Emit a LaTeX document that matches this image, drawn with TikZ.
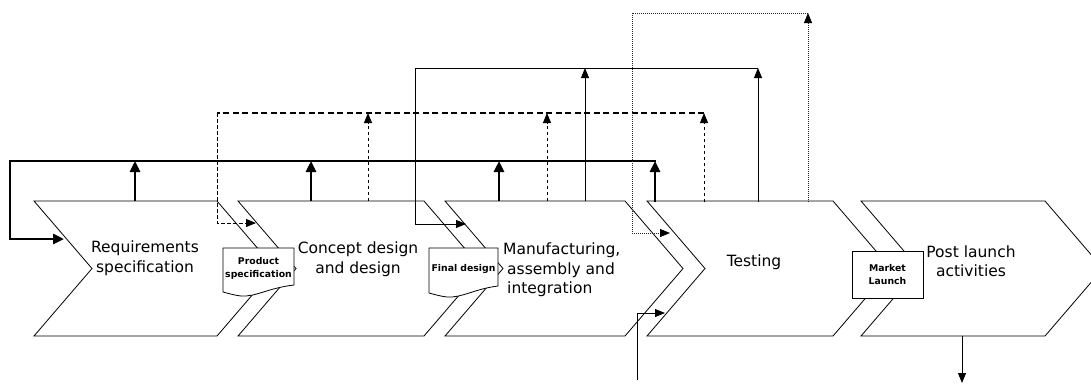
\documentclass[tikz,border=0pt]{standalone}
\usepackage{fontspec}
\setmainfont{DejaVu Sans}
\usetikzlibrary{arrows.meta}
\newcommand\mystage[2]{%
  \draw[stage] ({#1},201) -- ({#2},201) -- ({#2+58},268.5) -- ({#2},336) -- ({#1},336) -- ({#1+58},268.5) -- cycle;}
\begin{document}
\begin{tikzpicture}[x=1pt,y=-1pt,
  stage/.style={draw=black,line width=0.8pt,fill=white,line join=miter},
  lbl/.style={font=\fontsize{15.5}{19.5}\selectfont,inner sep=0pt},
  doclbl/.style={font=\bfseries\fontsize{9.3}{13}\selectfont,align=center,inner sep=0pt},
  docbox/.style={draw=black,line width=0.8pt,fill=white},
  fbthick/.style={line width=2.6pt,line join=miter,-{Triangle[length=11pt,width=10pt]}},
  fbthin/.style={line width=0.9pt,line join=miter,-{Triangle[length=10pt,width=8pt]}},
  fbdash/.style={line width=1.0pt,dash pattern=on 3.5pt off 2.5pt,-{Triangle[length=10pt,width=8pt]}},
  fbdashtop/.style={line width=1.8pt,dash pattern=on 6pt off 3.5pt},
  dotline/.style={line width=0.9pt,black!85,dash pattern=on 1.3pt off 0.7pt},
  fbdot/.style={dotline,-{Triangle[length=10pt,width=8pt,black]}},
]
\useasboundingbox (0,0) rectangle (1091,384);
\clip (0,0) rectangle (1091,384);

% stages
\mystage{34}{217}
\mystage{238}{424}
\mystage{445}{625}
\mystage{647}{833}
\mystage{861}{1045}

% text of stages
\node[lbl,align=center] (req) at (145,258) {Requirements\\specification};
\node[lbl,align=center] (con) at (358,259) {Concept design\\and design};
\node[lbl,align=left,anchor=west] (man) at (503,270) {Manufacturing,\\\hspace*{4pt}assembly and\\\hspace*{4pt}integration};
\node[lbl] (tes) at (754,262) {Testing};
\node[lbl,align=center] (pla) at (971,261) {Post launch\\activities};

% coordinates for connectors
\coordinate (tbL) at (10,161);
\coordinate (tbR) at (656,161);
\coordinate (reqin) at (64,239);
\coordinate (reqt) at (135,201);  \coordinate (tb1) at (135,161);
\coordinate (cont) at (311,201);  \coordinate (tb2) at (311,161);
\coordinate (mant) at (499,201);  \coordinate (tb3) at (499,161);
\coordinate (test) at (655,202);  \coordinate (tb4) at (655,161);

\coordinate (dlL) at (217,113);
\coordinate (dlR) at (704,113);
\coordinate (conin) at (256,223);
\coordinate (cond) at (368,201); \coordinate (dl1) at (368,113);
\coordinate (mand) at (547,201); \coordinate (dl2) at (547,113);
\coordinate (tesd) at (704,202); \coordinate (dl3) at (704,113);

\coordinate (slL) at (415,68);
\coordinate (slR) at (758,68);
\coordinate (manin) at (466,224);
\coordinate (mans) at (585,201); \coordinate (sl1) at (585,68);
\coordinate (tess) at (758,202); \coordinate (sl2) at (758,68);

\coordinate (olL) at (632,13);
\coordinate (olR) at (808,13);
\coordinate (tesin) at (670,233);
\coordinate (teso) at (808,202); \coordinate (ol1) at (808,13);

\coordinate (extb) at (637,380);
\coordinate (tesin2) at (665,313);

\coordinate (plab) at (962,336);
\coordinate (plaout) at (962,383);

% thick feedback to requirements
\draw[fbthick] (tbR) -- (tbL) |- (reqin);
\draw[fbthick] (reqt) -- (tb1);
\draw[fbthick] (cont) -- (tb2);
\draw[fbthick] (mant) -- (tb3);
\draw[fbthick] (test) -- (tb4);

% dashed feedback to concept
\draw[fbdashtop] (dlR) -- (dlL);
\draw[fbdash] (dlL) |- (conin);
\draw[fbdash] (cond) -- (dl1);
\draw[fbdash] (mand) -- (dl2);
\draw[fbdash] (tesd) -- (dl3);

% thin feedback to manufacturing
\draw[line width=0.9pt] (slR) -- (slL);
\draw[fbthin] (slL) |- (manin);
\draw[fbthin] (mans) -- (sl1);
\draw[fbthin] (tess) -- (sl2);

% dotted feedback to testing
\draw[dotline] (olR) -- (olL);
\draw[fbdot] (olL) |- (tesin);
\draw[fbdot] (teso) -- (ol1);

% external input to testing
\draw[fbthin] (extb) |- (tesin2);

% output of post launch
\draw[fbthin] (plab) -- (plaout);

% deliverables
\draw[docbox] (223,248) -- (294,248) -- (294,285) .. controls (268,288) and (256,297) .. (241,296) .. controls (233,295) and (227,293) .. (223,292) -- cycle;
\node[doclbl] (ps) at (258.5,268) {Product\\specification};
\draw[docbox] (429,248) -- (498,248) -- (498,286) .. controls (474,289) and (462,298) .. (447,297) .. controls (439,296) and (433,294) .. (429,293) -- cycle;
\node[doclbl] (fd) at (463.5,269) {Final design};
\draw[docbox] (852,251) rectangle (923,298);
\node[doclbl] (ml) at (887.5,275) {Market\\Launch};
\end{tikzpicture}
\end{document}
